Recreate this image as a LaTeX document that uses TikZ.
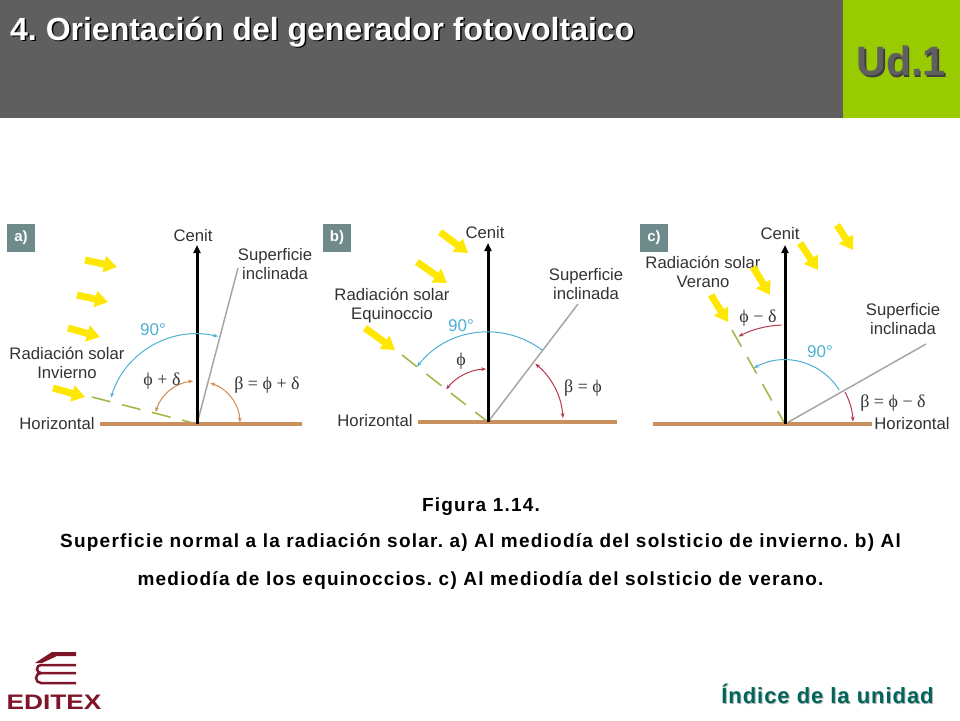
\documentclass[tikz,border=0pt]{standalone}
\usepackage{fontspec}
\setmainfont{Liberation Sans}
\newfontfamily\symfont{Liberation Serif}
\usepackage{amsmath,amssymb}
\usetikzlibrary{arrows.meta}
\definecolor{headgray}{HTML}{5F5F5F}
\definecolor{udgreen}{HTML}{99CC00}
\definecolor{linkteal}{HTML}{00665C}
\definecolor{groundtan}{HTML}{C98F5C}
\definecolor{dashgreen}{HTML}{A3B84A}
\definecolor{skyblue}{HTML}{4DB0D2}
\definecolor{anglered}{HTML}{B5384A}
\definecolor{angletan}{HTML}{D08A50}
\definecolor{tagtone}{HTML}{6F8A8A}
\definecolor{brandred}{HTML}{7E1528}
\tikzset{
  lbl/.style={font=\fontsize{16.7}{19}\selectfont, text=black!80, align=center, inner sep=0pt},
  greek/.style={font=\symfont\fontsize{18}{20}\selectfont, text=black!80, inner sep=0pt},
  deg/.style={font=\fontsize{17}{19}\selectfont, text=skyblue, inner sep=0pt},
  tag/.style={fill=tagtone, text=white, font=\bfseries\fontsize{15}{17}\selectfont, minimum width=28pt, minimum height=28pt, inner sep=0pt},
  ground/.style={groundtan, line width=3.5pt},
  zenith/.style={black, line width=3pt, -{Triangle[length=8pt,width=7pt]}},
  slope/.style={black!35, line width=1.5pt},
  rayline/.style={dashgreen, line width=1.6pt, dash pattern=on 19pt off 12pt},
  sunray/.style={yellow!90!orange, line width=7pt, -{Triangle[length=13pt,width=16pt]}},
  arcline/.style={line width=1pt, >={Stealth[length=5pt]}},
  caption/.style={font=\bfseries\addfontfeature{LetterSpace=6.5}\fontsize{19}{38}\selectfont, text=black, align=center, inner sep=0pt},
  linktext/.style={inner sep=0pt, font=\bfseries\addfontfeature{LetterSpace=4.3}\fontsize{22}{26}\selectfont}
}
\begin{document}
\begin{tikzpicture}[x=1pt, y=-1pt]
  \useasboundingbox (0,0) rectangle (960,720);
  \frenchspacing
  % Header
  \fill[headgray] (0,0) rectangle (843,118);
  \fill[udgreen] (843,0) rectangle (960,118);
  \node[anchor=west, inner sep=0pt, text=black, font=\bfseries\fontsize{32}{36}\selectfont] (titleshade) at (11.5,33.5) {4. Orientación del generador fotovoltaico};
  \node[anchor=west, inner sep=0pt, text=white, font=\bfseries\fontsize{32}{36}\selectfont] (title) at (10,32) {4. Orientación del generador fotovoltaico};
  \node[inner sep=0pt, text=black!75, font=\bfseries\fontsize{41}{46}\selectfont] (unitshade) at (902.5,62.5) {Ud.1};
  \node[inner sep=0pt, text=headgray, font=\bfseries\fontsize{41}{46}\selectfont] (unit) at (901,61) {Ud.1};
  % Panel a
  \node[tag] (taga) at (21,238) {a)};
  \coordinate (Oa) at (197,424);
  \coordinate (Za) at (197,245);
  \coordinate (HLa) at (100,424);
  \coordinate (HRa) at (302,424);
  \coordinate (Sa) at (238,268);
  \coordinate (Da) at (92,397);
  \draw[rayline] (Da) -- (Oa);
  \draw[slope] (Oa) -- (Sa);
  \draw[ground] (HLa) -- (HRa);
  \draw[zenith] (Oa) -- (Za);
  \draw[arcline, skyblue, <->] (Oa) ++(163:90pt) arc[start angle=163, end angle=76.5, radius=90pt];
  \draw[arcline, angletan, <->] (Oa) ++(164:43pt) arc[start angle=164, end angle=95, radius=43pt];
  \draw[arcline, angletan, <->] (Oa) ++(72:43pt) arc[start angle=72, end angle=2, radius=43pt];
  \node[lbl] (cenita) at (193,236) {Cenit};
  \node[lbl] (supa) at (275,264) {Superficie\\inclinada};
  \node[lbl] (rada) at (67,363) {Radiación solar\\Invierno};
  \node[lbl] (hora) at (57,424) {Horizontal};
  \node[deg] (nova) at (153,330) {90°};
  \node[greek] (anga) at (162,381) {ϕ + δ};
  \node[greek] (betaa) at (267,385) {β = ϕ + δ};
  % Panel b
  \node[tag] (tagb) at (337,238) {b)};
  \coordinate (Ob) at (488,422);
  \coordinate (Zb) at (488,243);
  \coordinate (HLb) at (418,422);
  \coordinate (HRb) at (617,422);
  \coordinate (Sb) at (578,304);
  \coordinate (Db) at (402,355);
  \draw[rayline] (Db) -- (Ob);
  \draw[slope] (Ob) -- (Sb);
  \draw[ground] (HLb) -- (HRb);
  \draw[zenith] (Ob) -- (Zb);
  \draw[arcline, skyblue, <-] (Ob) ++(142:90pt) arc[start angle=142, end angle=53, radius=90pt];
  \draw[arcline, anglered, <->] (Ob) ++(142:53pt) arc[start angle=142, end angle=92, radius=53pt];
  \draw[arcline, anglered, <->] (Ob) ++(51:75pt) arc[start angle=51, end angle=3, radius=75pt];
  \node[lbl] (cenitb) at (485,233) {Cenit};
  \node[lbl] (supb) at (586,284) {Superficie\\inclinada};
  \node[lbl] (radb) at (392,306) {Radiación solar\\Equinoccio};
  \node[lbl] (horb) at (375,421) {Horizontal};
  \node[deg] (novb) at (461,326) {90°};
  \node[greek] (angb) at (461,361) {ϕ};
  \node[greek] (betab) at (583,388) {β = ϕ};
  % Panel c
  \node[tag] (tagc) at (654,238) {c)};
  \coordinate (Oc) at (785,424);
  \coordinate (Zc) at (785,245);
  \coordinate (HLc) at (653,424);
  \coordinate (HRc) at (872,424);
  \coordinate (Sc) at (926,344);
  \coordinate (Dc) at (732,330);
  \draw[rayline] (Dc) -- (Oc);
  \draw[slope] (Oc) -- (Sc);
  \draw[ground] (HLc) -- (HRc);
  \draw[zenith] (Oc) -- (Zc);
  \draw[arcline, skyblue, <-] (Oc) ++(119:64pt) arc[start angle=119, end angle=32, radius=64pt];
  \draw[arcline, anglered, <-] (Oc) ++(118:99pt) arc[start angle=118, end angle=92, radius=99pt];
  \draw[arcline, anglered, ->] (Oc) ++(28:68pt) arc[start angle=28, end angle=2, radius=68pt];
  \node[lbl] (cenitc) at (780,234) {Cenit};
  \node[lbl] (supc) at (903,319) {Superficie\\inclinada};
  \node[lbl] (radc) at (703,272) {Radiación solar\\Verano};
  \node[lbl] (horc) at (912,424) {Horizontal};
  \node[deg] (novc) at (820,352) {90°};
  \node[greek] (angc) at (758,318) {ϕ − δ};
  \node[greek] (betac) at (893,403) {β = ϕ − δ};
  % Sun rays
  \foreach \n/\xa/\ya/\xb/\yb in {1/85/260/117/267, 2/77/295/108/302, 3/68/328/100/337, 4/53/388/85/397,
      5/440/232/468/253, 6/417/262/447/283, 7/365/328/395/350,
      8/837/225/853/250, 9/800/243/818/270, 10/753/267/770/295, 11/711/295/728/322}{
    \coordinate (ray\n s) at (\xa,\ya);
    \coordinate (ray\n e) at (\xb,\yb);
    \draw[sunray] (ray\n s) -- (ray\n e);
  }
  % Caption
  \node[caption] (figno) at (481,506.5) {Figura 1.14.};
  \node[caption] (figtext) at (480.5,561) {Superficie normal a la radiación solar. a) Al mediodía del solsticio de invierno. b) Al\\mediodía de los equinoccios. c) Al mediodía del solsticio de verano.};
  % Logo
  \fill[brandred] (35,663) -- (52,652) -- (76,652) -- (76,656) -- (57,656) -- (42,663) -- cycle;
  \draw[brandred, line width=2.5pt] (76,665) -- (41,665) arc[start angle=90, end angle=270, radius=4pt] -- (76,673);
  \draw[brandred, line width=2.5pt] (41,673) arc[start angle=90, end angle=270, radius=5pt] -- (76,683);
  \node[inner sep=0pt, text=brandred, xscale=1.25, font=\bfseries\fontsize{21}{24}\selectfont] (brand) at (54,702) {EDITEX};
  % Link
  \node[linktext, text=black!30] (linkshade) at (828.5,694.5) {Índice de la unidad};
  \node[linktext, text=linkteal] (link) at (827.5,693.5) {Índice de la unidad};
\end{tikzpicture}
\end{document}
